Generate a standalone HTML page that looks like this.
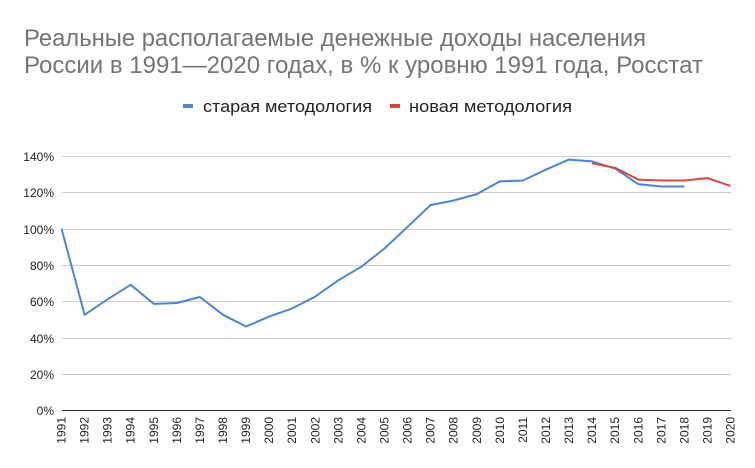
<!DOCTYPE html>
<html><head><meta charset="utf-8"><style>
html,body{margin:0;padding:0;background:#fff;width:755px;height:468px;overflow:hidden}
svg{display:block;font-family:"Liberation Sans",Arial,sans-serif}
</style></head><body>
<svg width="755" height="468" viewBox="0 0 755 468" xmlns="http://www.w3.org/2000/svg">
<text x="24" y="46" font-size="24" fill="#757575" textLength="622" lengthAdjust="spacingAndGlyphs">Реальные располагаемые денежные доходы населения</text>
<text x="24" y="73" font-size="24" fill="#757575" textLength="679" lengthAdjust="spacingAndGlyphs">России в 1991—2020 годах, в % к уровню 1991 года, Росстат</text>
<rect x="183" y="104" width="10" height="4" fill="#4a86d8"/>
<text x="203" y="112" font-size="17" fill="#222" textLength="169" lengthAdjust="spacingAndGlyphs">старая методология</text>
<rect x="390" y="104" width="10" height="4" fill="#d9473b"/>
<text x="409" y="112" font-size="17" fill="#222" textLength="163" lengthAdjust="spacingAndGlyphs">новая методология</text>
<g stroke="#cccccc" stroke-width="1">
<line x1="62" x2="731" y1="156.5" y2="156.5"/>
<line x1="62" x2="731" y1="192.5" y2="192.5"/>
<line x1="62" x2="731" y1="229.5" y2="229.5"/>
<line x1="62" x2="731" y1="265.5" y2="265.5"/>
<line x1="62" x2="731" y1="301.5" y2="301.5"/>
<line x1="62" x2="731" y1="338.5" y2="338.5"/>
<line x1="62" x2="731" y1="374.5" y2="374.5"/>
</g>
<line x1="62" x2="731" y1="410.5" y2="410.5" stroke="#333" stroke-width="1"/>
<g font-size="12" fill="#222" text-anchor="end">
<text x="54" y="161">140%</text><text x="54" y="197">120%</text><text x="54" y="234">100%</text>
<text x="54" y="270">80%</text><text x="54" y="306">60%</text><text x="54" y="343">40%</text>
<text x="54" y="379">20%</text><text x="54" y="415">0%</text>
</g>
<g font-size="12" fill="#222" text-anchor="end">
<text transform="translate(65.5,417) rotate(-90)">1991</text>
<text transform="translate(88.6,417) rotate(-90)">1992</text>
<text transform="translate(111.6,417) rotate(-90)">1993</text>
<text transform="translate(134.7,417) rotate(-90)">1994</text>
<text transform="translate(157.8,417) rotate(-90)">1995</text>
<text transform="translate(180.9,417) rotate(-90)">1996</text>
<text transform="translate(203.9,417) rotate(-90)">1997</text>
<text transform="translate(227.0,417) rotate(-90)">1998</text>
<text transform="translate(250.1,417) rotate(-90)">1999</text>
<text transform="translate(273.1,417) rotate(-90)">2000</text>
<text transform="translate(296.2,417) rotate(-90)">2001</text>
<text transform="translate(319.3,417) rotate(-90)">2002</text>
<text transform="translate(342.3,417) rotate(-90)">2003</text>
<text transform="translate(365.4,417) rotate(-90)">2004</text>
<text transform="translate(388.5,417) rotate(-90)">2005</text>
<text transform="translate(411.6,417) rotate(-90)">2006</text>
<text transform="translate(434.6,417) rotate(-90)">2007</text>
<text transform="translate(457.7,417) rotate(-90)">2008</text>
<text transform="translate(480.8,417) rotate(-90)">2009</text>
<text transform="translate(503.8,417) rotate(-90)">2010</text>
<text transform="translate(526.9,417) rotate(-90)">2011</text>
<text transform="translate(550.0,417) rotate(-90)">2012</text>
<text transform="translate(573.0,417) rotate(-90)">2013</text>
<text transform="translate(596.1,417) rotate(-90)">2014</text>
<text transform="translate(619.2,417) rotate(-90)">2015</text>
<text transform="translate(642.3,417) rotate(-90)">2016</text>
<text transform="translate(665.3,417) rotate(-90)">2017</text>
<text transform="translate(688.4,417) rotate(-90)">2018</text>
<text transform="translate(711.5,417) rotate(-90)">2019</text>
<text transform="translate(734.5,417) rotate(-90)">2020</text>
</g>
<polyline fill="none" stroke="#4a86d8" stroke-width="2" stroke-linejoin="round" points="61.5,228.6 84.6,314.8 107.6,299.3 130.7,284.8 153.8,303.9 176.9,303.0 199.9,297.0 223.0,314.8 246.1,326.5 269.1,316.6 292.2,308.4 315.3,296.6 338.3,280.3 361.4,266.7 384.5,248.5 407.6,226.8 430.6,205.0 453.7,200.5 476.8,194.1 499.8,181.4 522.9,180.5 546.0,169.6 569.0,159.6 592.1,161.4 615.2,168.7 638.3,184.1 661.3,186.5 684.4,186.5"/>
<polyline fill="none" stroke="#d9473b" stroke-width="2" stroke-linejoin="round" points="592.1,163.3 615.2,167.8 638.3,179.6 661.3,180.5 684.4,180.5 707.5,178.1 730.5,185.9"/>
</svg>
</body></html>
